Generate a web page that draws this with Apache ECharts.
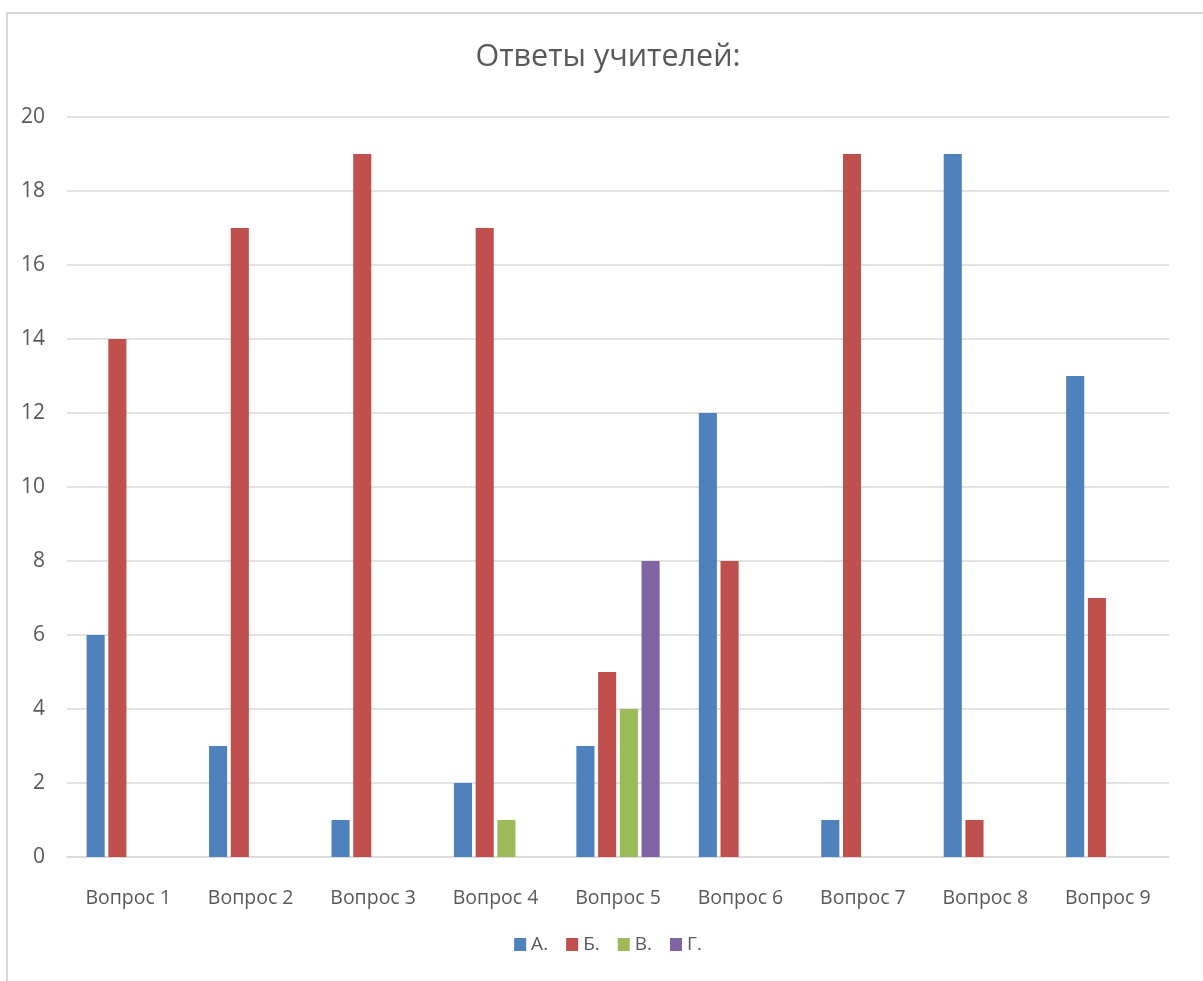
<!DOCTYPE html>
<html>
<head>
<meta charset="utf-8">
<script src="https://cdn.jsdelivr.net/npm/echarts@6/dist/echarts.min.js"></script>
<style>
html,body{margin:0;padding:0;overflow:hidden;background:#fff;width:1203px;height:981px;}
#frame{position:absolute;left:6px;top:12px;width:1300px;height:1100px;border:2px solid #d9d9d9;box-sizing:border-box;}
#chart{position:absolute;left:0;top:0;width:1216px;height:981px;}
</style>
</head>
<body>
<div id="frame"></div>
<div id="chart"></div>
<script>
const categories = ['Вопрос 1','Вопрос 2','Вопрос 3','Вопрос 4','Вопрос 5','Вопрос 6','Вопрос 7','Вопрос 8','Вопрос 9'];
const seriesA = [6, 3, 1, 2, 3, 12, 1, 19, 13];
const seriesB = [14, 17, 19, 17, 5, 8, 19, 1, 7];
const seriesV = [0, 0, 0, 1, 4, 0, 0, 0, 0];
const seriesG = [0, 0, 0, 0, 8, 0, 0, 0, 0];
const seriesNames = ['А.', 'Б.', 'В.', 'Г.'];
const colors = ['#4F81BD', '#C0504D', '#9BBB59', '#8064A2'];

const font = 'Open Sans';
const chart = echarts.init(document.getElementById('chart'), null, {renderer: 'canvas'});
const dataSets = [seriesA, seriesB, seriesV, seriesG];
chart.setOption({
  animation: false,
  color: colors,
  title: {
    text: 'Ответы учителей:',
    left: 'center',
    top: 37,
    textStyle: {fontFamily: font, fontSize: 30.5, fontWeight: 'normal', color: '#595959'}
  },
  legend: {
    data: seriesNames,
    bottom: 22,
    left: 'center',
    icon: 'rect',
    itemWidth: 12,
    itemHeight: 13,
    itemGap: 18,
    textStyle: {fontFamily: font, fontSize: 19, color: '#595959'}
  },
  grid: {left: 67, right: 47, top: 117, bottom: 124, containLabel: false},
  xAxis: {
    type: 'category',
    data: categories,
    axisLine: {show: true, lineStyle: {color: '#d9d9d9', width: 1.5}},
    axisTick: {show: false},
    axisLabel: {fontFamily: font, fontSize: 19.5, color: '#595959', margin: 31}
  },
  yAxis: {
    type: 'value',
    min: 0, max: 20, interval: 2,
    axisLine: {show: false},
    axisTick: {show: false},
    axisLabel: {fontFamily: font, fontSize: 21, color: '#595959', margin: 22},
    splitLine: {lineStyle: {color: '#d9d9d9', width: 1.5}}
  },
  series: dataSets.map((d, i) => ({
    name: seriesNames[i],
    type: 'bar',
    data: d,
    barGap: '20%',
    barCategoryGap: '32%',
    itemStyle: {color: colors[i]}
  }))
});
</script>
</body>
</html>
